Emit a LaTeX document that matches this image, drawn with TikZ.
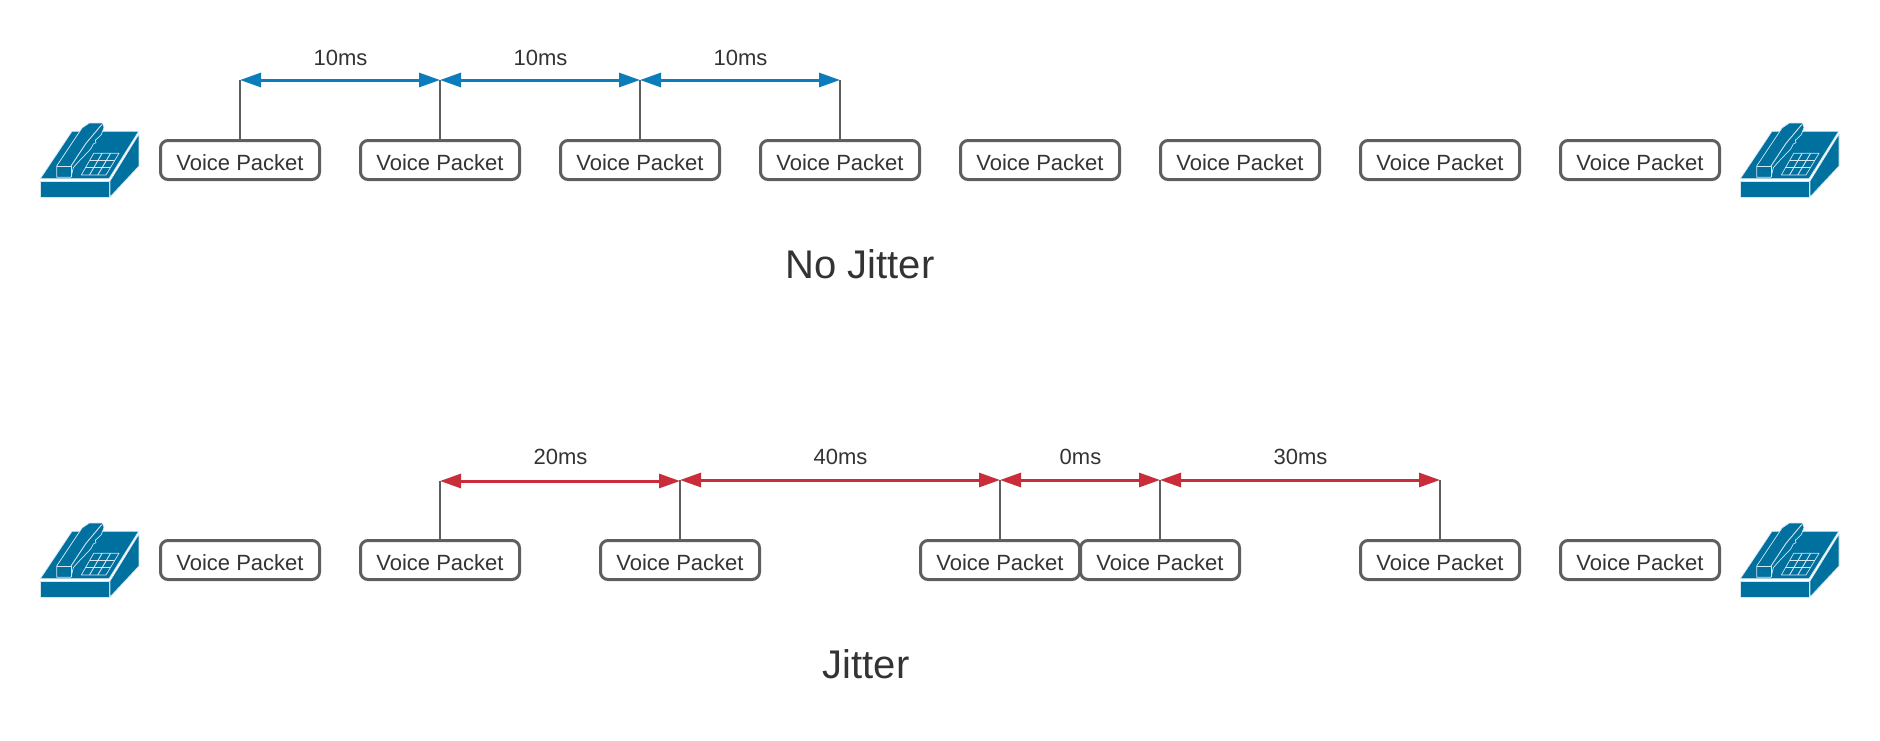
\documentclass[tikz,border=0pt]{standalone}
\usepackage{fontspec}
\setmainfont{Liberation Sans}
\usetikzlibrary{arrows.meta,calc}
\definecolor{phoneblue}{HTML}{00709F}
\definecolor{phoneline}{HTML}{D5E6EF}
\definecolor{arrowblue}{HTML}{0C7CBA}
\definecolor{arrowred}{HTML}{C92D39}
\definecolor{boxgrey}{HTML}{5E5E5E}
\definecolor{txt}{HTML}{333333}
\tikzset{
  packet/.style={draw=boxgrey,line width=3pt,fill=white,rounded corners=7.5pt,minimum width=159pt,minimum height=39pt,inner sep=0pt,text height=20pt,text depth=0pt,text=txt,font=\fontsize{22}{26}\selectfont},
  tick/.style={draw=boxgrey,line width=2pt},
  span/.style={line width=3pt,{Triangle[length=21pt,width=14pt]}-{Triangle[length=21pt,width=14pt]}},
  bluespan/.style={span,draw=arrowblue,color=arrowblue},
  redspan/.style={span,draw=arrowred,color=arrowred},
  msl/.style={text=txt,inner sep=0pt,font=\fontsize{22}{26}\selectfont},
  head/.style={text=txt,inner sep=0pt,font=\fontsize{40}{46}\selectfont},
  phoneface/.style={fill=phoneblue,draw=phoneline,line width=0.7pt,line join=round},
  phonel/.style={draw=phoneline,line width=0.9pt,line join=round},
  phone/.pic={
    \begin{scope}[x=0.3333pt,y=-0.3333pt]
      \path[phoneface] (13,195)--(219,195)--(219,243)--(13,243)--cycle;
      \path[phoneface] (13,188)--(108,46)--(308,46)--(219,188)--cycle;
      \path[phoneface] (222,195)--(309,54)--(309,150)--(222,243)--cycle;
      \path[phoneface] (62,150)--(138,36)--(160,21)--(199,21)--(204,34)--(196,56)--(178,73)--(180,80)--(172,84)--(165,98)--(125,140)--(112,155)--(105,184)--(62,184)--cycle;
      \path[phonel] (62,150)--(105,150)--(105,184);
      \path[phonel] (105,150)--(150,82)--(197,26);
      \path[phoneface] (173,112)--(249,112)--(210,177)--(136,177)--cycle;
      \foreach \t in {0.333,0.667}{
        \path[phonel] ($(173,112)!\t!(136,177)$)--($(249,112)!\t!(210,177)$);
        \path[phonel] ($(173,112)!\t!(249,112)$)--($(136,177)!\t!(210,177)$);
      }
    \end{scope}
  }
}
\begin{document}
\begin{tikzpicture}[x=1pt,y=-1pt]
\useasboundingbox (0,0) rectangle (1880,740);
% phones
\pic at (36,116) {phone};
\pic at (1736,116) {phone};
\pic at (36,516) {phone};
\pic at (1736,516) {phone};
% top row
\foreach \n/\x in {a/240,b/440,c/640,d/840,e/1040,f/1240,g/1440,h/1640}{
  \node[packet] (\n) at (\x,160) {Voice Packet};
}
\coordinate (ta) at (240,80);
\coordinate (tb) at (440,80);
\coordinate (tc) at (640,80);
\coordinate (td) at (840,80);
\draw[tick] (a.north)--(ta);
\draw[tick] (b.north)--(tb);
\draw[tick] (c.north)--(tc);
\draw[tick] (d.north)--(td);
\draw[bluespan] (ta)--(tb);
\draw[bluespan] (tb)--(tc);
\draw[bluespan] (tc)--(td);
\node[msl] (l1) at (340.5,57.5) {10ms};
\node[msl] (l2) at (540.5,57.5) {10ms};
\node[msl] (l3) at (740.5,57.5) {10ms};
\node[head] (h1) at (860,264) {No Jitter};
% bottom row
\foreach \n/\x in {p/240,q/440,r/680,s/1000,u/1160,v/1440,w/1640}{
  \node[packet] (\n) at (\x,560) {Voice Packet};
}
\coordinate (tq) at (440,481);
\coordinate (tr0) at (680,481);
\coordinate (tr) at (680,480);
\coordinate (ts) at (1000,480);
\coordinate (tu) at (1160,480);
\coordinate (tv) at (1440,480);
\draw[tick] (q.north)--(tq);
\draw[tick] (r.north)--(tr);
\draw[tick] (s.north)--(ts);
\draw[tick] (u.north)--(tu);
\draw[tick] (v.north)--(tv);
\draw[redspan] (tq)--(tr0);
\draw[redspan] (tr)--(ts);
\draw[redspan] (ts)--(tu);
\draw[redspan] (tu)--(tv);
\node[msl] (m1) at (560.5,457) {20ms};
\node[msl] (m2) at (840.5,457) {40ms};
\node[msl] (m3) at (1080.5,457) {0ms};
\node[msl] (m4) at (1300.5,457) {30ms};
\node[head] (h2) at (866,664) {Jitter};
\end{tikzpicture}
\end{document}
